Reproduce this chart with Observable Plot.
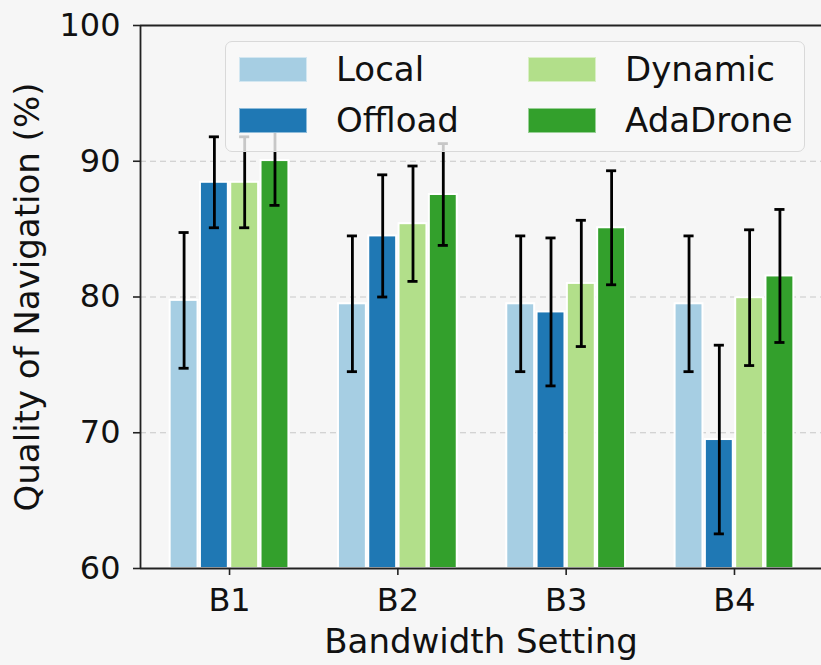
<!DOCTYPE html>
<html>
<head>
<meta charset="utf-8">
<script src="https://cdn.jsdelivr.net/npm/d3@7"></script>
<script src="https://cdn.jsdelivr.net/npm/@observablehq/plot@0.6"></script>
<style>
  html, body { margin: 0; padding: 0; background: #f6f6f6; }
  #wrap { position: relative; width: 821px; height: 665px; overflow: hidden; font-family: "DejaVu Sans", sans-serif; }
  #legend { position: absolute; left: 225px; top: 41px; width: 580px; height: 111px;
    border: 1px solid #d9d9d9; border-radius: 7px; background: rgba(249,249,249,0.8); box-sizing: border-box; }
  .sw { position: absolute; width: 68px; height: 25px; box-sizing: border-box; border: 1px solid rgba(255,255,255,0.5); }
  .lt { position: absolute; font-size: 34px; line-height: 34px; color: #111; white-space: nowrap; }
</style>
</head>
<body>
<div id="wrap"></div>
<script>
const groups = ["B1", "B2", "B3", "B4"];
const series = ["Local", "Offload", "Dynamic", "AdaDrone"];
const colors = ["#a6cee3", "#1f78b4", "#b2df8a", "#33a02c"];

const localVals    = [79.75, 79.5, 79.5, 79.5];
const localErr     = [5.0, 5.0, 5.0, 5.0];
const offloadVals  = [88.45, 84.5, 78.9, 69.5];
const offloadErr   = [3.35, 4.5, 5.45, 6.95];
const dynamicVals  = [88.45, 85.4, 81.0, 79.95];
const dynamicErr   = [3.35, 4.25, 4.65, 5.0];
const adaVals      = [90.05, 87.55, 85.1, 81.55];
const adaErr       = [3.3, 3.75, 4.2, 4.9];

const yTicks = [60, 70, 80, 90, 100];
const gridTicks = [70, 80, 90];
const yLabel = "Quality of Navigation (%)";
const xLabel = "Bandwidth Setting";

const allVals = [localVals, offloadVals, dynamicVals, adaVals];
const allErr = [localErr, offloadErr, dynamicErr, adaErr];

const barW = 0.18;
const xDomain = [-0.529, 3.517];
const yDomain = [60, 100];

const rows = [];
groups.forEach((g, gi) => {
  series.forEach((s, si) => {
    const c = gi + (si - 1.5) * barW;
    rows.push({group: g, series: s, c, x1: c - barW / 2, x2: c + barW / 2,
      value: allVals[si][gi], lo: allVals[si][gi] - allErr[si][gi], hi: allVals[si][gi] + allErr[si][gi]});
  });
});
const capHalf = 0.03;
const caps = rows.flatMap(r => [{y: r.lo, x1: r.c - capHalf, x2: r.c + capHalf}, {y: r.hi, x1: r.c - capHalf, x2: r.c + capHalf}]);

const chart = Plot.plot({
  width: 821,
  height: 665,
  marginLeft: 140,
  marginRight: 0,
  marginTop: 25,
  marginBottom: 97,
  style: {background: "transparent", fontFamily: "DejaVu Sans", color: "#111", overflow: "visible"},
  x: {domain: xDomain},
  y: {domain: yDomain},
  color: {domain: series, range: colors},
  marks: [
    Plot.ruleY(gridTicks, {stroke: "#c8c8c8", strokeWidth: 1.2, strokeDasharray: "6,4"}),
    Plot.rectY(rows, {x1: "x1", x2: "x2", y1: yDomain[0], y2: "value", fill: "series",
      stroke: "white", strokeWidth: 2, insetLeft: 1.2, insetRight: 1.2}),
    Plot.ruleX(rows, {x: "c", y1: "lo", y2: "hi", stroke: "#000", strokeWidth: 2.8}),
    Plot.ruleY(caps, {y: "y", x1: "x1", x2: "x2", stroke: "#000", strokeWidth: 2.8}),
    Plot.ruleY([yDomain[0], yDomain[1]], {stroke: "#222", strokeWidth: 1.8}),
    Plot.ruleX([xDomain[0]], {stroke: "#222", strokeWidth: 1.8}),
    Plot.axisY({ticks: yTicks, tickSize: 7, tickPadding: 13, fontSize: 32, label: null, strokeWidth: 1.6, stroke: "#222"}),
    Plot.axisX({ticks: [0, 1, 2, 3], tickFormat: i => groups[i], tickSize: 7, tickPadding: 13, fontSize: 32, label: null, strokeWidth: 1.6, stroke: "#222"}),
    Plot.text([xLabel], {frameAnchor: "bottom", textAnchor: "middle", lineAnchor: "middle", dy: 74, fontSize: 34, fill: "#111"}),
    Plot.text([yLabel], {frameAnchor: "left", textAnchor: "middle", lineAnchor: "middle", rotate: -90, dx: -112, fontSize: 34, fill: "#111"})
  ]
});

const wrap = document.getElementById("wrap");
wrap.appendChild(chart);

// legend overlay
const legend = document.createElement("div");
legend.id = "legend";
wrap.appendChild(legend);
const pos = [
  {sx: 239, sy: 57, tx: 336, ty: 52},
  {sx: 239, sy: 108, tx: 336, ty: 103},
  {sx: 528, sy: 57, tx: 625, ty: 52},
  {sx: 528, sy: 108, tx: 625, ty: 103}
];
series.forEach((s, i) => {
  const sw = document.createElement("div");
  sw.className = "sw";
  sw.style.left = pos[i].sx + "px";
  sw.style.top = pos[i].sy + "px";
  sw.style.background = colors[i];
  wrap.appendChild(sw);
  const t = document.createElement("div");
  t.className = "lt";
  t.style.left = pos[i].tx + "px";
  t.style.top = pos[i].ty + "px";
  t.textContent = s;
  wrap.appendChild(t);
});
</script>
</body>
</html>
